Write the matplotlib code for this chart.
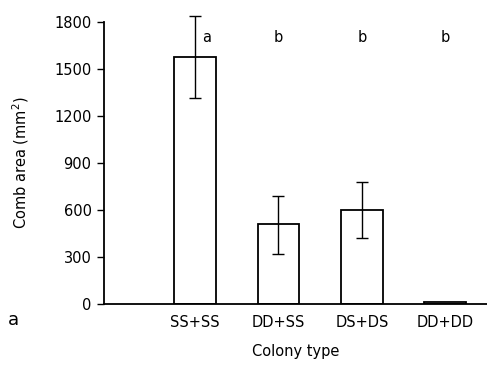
import matplotlib
matplotlib.use("Agg")
import matplotlib.pyplot as plt

colony = ["SS+SS", "DD+SS", "DS+DS", "DD+DD"]
area = [1575, 510, 602, 10]
err_hi = [262, 182, 178, 0]
err_lo = [262, 190, 183, 0]
letters = ["a", "b", "b", "b"]
yticks = [0, 300, 600, 900, 1200, 1500, 1800]

plt.rcParams["font.family"] = ["DejaVu Sans"]

fig = plt.figure(figsize=(4.87, 3.68), dpi=100)
ax = fig.add_axes([0.2136, 0.174, 0.7864, 0.766])

x = [1, 2, 3, 4]
ax.bar(x, area, 0.5, color="white", edgecolor="black", linewidth=1.3)
eb = ax.errorbar(x[:3], area[:3], yerr=[err_lo[:3], err_hi[:3]], fmt="none",
                 ecolor="black", elinewidth=1.0, capsize=4, capthick=1.0)
for art in eb.lines[1] + eb.lines[2]:
    art.set_clip_on(False)
offs = [0.14, 0, 0, 0]
for xi, lab, o in zip(x, letters, offs):
    ax.text(xi + o, 1700, lab, ha="center", va="center", fontsize=10.5)

ax.set_xlim(-0.09, 4.5)
ax.set_ylim(0, 1800)
ax.set_yticks(yticks)
ax.set_xticks(x)
ax.set_xticklabels(colony, fontsize=10.5)
ax.tick_params(axis="x", length=0, pad=8)
ax.tick_params(axis="y", length=5, width=1, labelsize=10.5, pad=4)
for s in ["top", "right"]:
    ax.spines[s].set_visible(False)
ax.spines["left"].set_linewidth(1.3)
ax.spines["bottom"].set_linewidth(1.3)

ax.set_ylabel("Comb area (mm$^2$)", fontsize=10.5, labelpad=17)
ax.set_xlabel("Colony type", fontsize=10.5, labelpad=10)
fig.text(0.016, 0.13, "a", fontsize=13, va="center")

fig.savefig("out.png", dpi=100)
